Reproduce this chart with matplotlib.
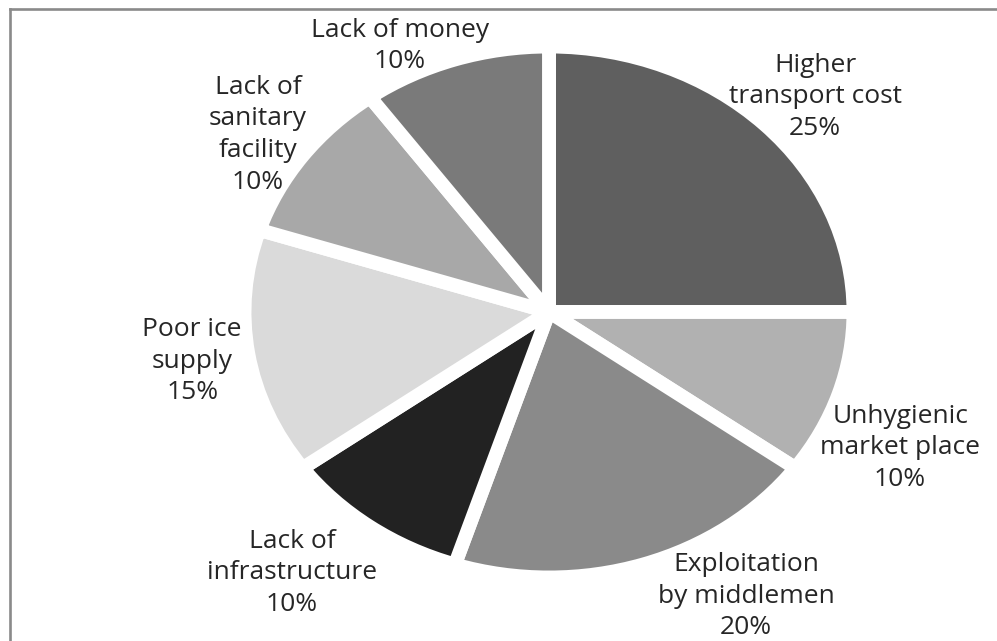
import matplotlib
matplotlib.use("Agg")
import matplotlib.pyplot as plt
from matplotlib.lines import Line2D

# Problems reported in fish marketing (share of respondents, %)
categories = [
    "Higher\ntransport cost",
    "Unhygienic\nmarket place",
    "Exploitation\nby middlemen",
    "Lack of\ninfrastructure",
    "Poor ice\nsupply",
    "Lack of\nsanitary\nfacility",
    "Lack of money",
]
shares = [25, 10, 20, 10, 15, 10, 10]
colors = ["#5f5f5f", "#b1b1b1", "#8a8a8a", "#222222", "#dadada", "#a8a8a8", "#7a7a7a"]

# label anchor positions, in pie-radius units relative to the centre
label_pos = [
    (0.874, 0.810),
    (1.153, -0.512),
    (0.647, -1.070),
    (-0.844, -0.983),
    (-1.172, -0.185),
    (-0.956, 0.667),
    (-0.489, 1.002),
]

W, H = 997, 641
fig = plt.figure(figsize=(W / 100, H / 100), dpi=100)
ax = fig.add_axes([0, 0, 1, 1])

# pixel geometry of the (slightly squashed) pie
cx, cy, rx, ry = 549, 312, 304.5, 265.5

ax.pie(shares, colors=colors, startangle=90, counterclock=False,
       wedgeprops=dict(edgecolor="white", linewidth=10, joinstyle="round"))
ax.set_aspect("auto")
ax.set_xlim((0 - cx) / rx, (W - cx) / rx)
ax.set_ylim((cy - H) / ry, (cy - 0) / ry)
ax.axis("off")

font = ["Open Sans", "DejaVu Sans"]
for name, val, (lx, ly) in zip(categories, shares, label_pos):
    ax.text(lx, ly, f"{name}\n{val}%", ha="center", va="center",
            fontsize=19, family=font, color="#262626", linespacing=1.36)

# chart-area frame (top and left edges)
frame_col = "#8a8a8a"
fig.add_artist(Line2D([10 / W, 1.0], [1 - 9 / H, 1 - 9 / H], color=frame_col,
                      linewidth=1.9, transform=fig.transFigure))
fig.add_artist(Line2D([10 / W, 10 / W], [0.0, 1 - 9 / H], color=frame_col,
                      linewidth=1.9, transform=fig.transFigure))

fig.savefig("out.png", dpi=100, facecolor="white")
